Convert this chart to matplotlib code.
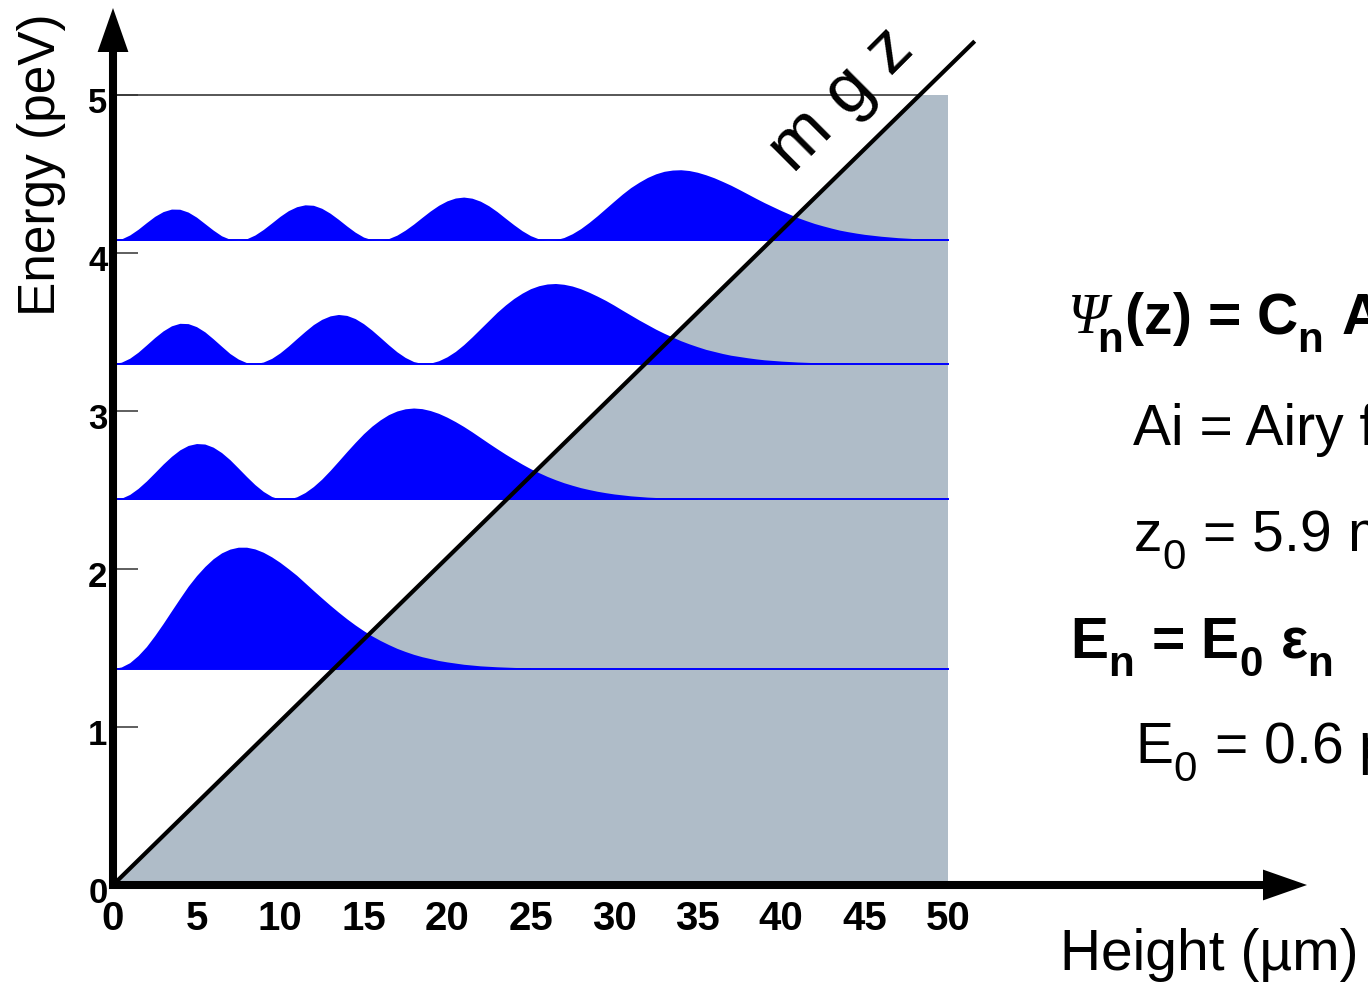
import numpy as np
import matplotlib
matplotlib.use("Agg")
import matplotlib.pyplot as plt
from matplotlib.patches import FancyArrowPatch, Polygon
import matplotlib.transforms as mtransforms

plt.rcParams['font.family'] = ['Liberation Sans', 'DejaVu Sans']
plt.rcParams['mathtext.fontset'] = 'custom'
plt.rcParams['mathtext.rm'] = 'Liberation Sans'
plt.rcParams['mathtext.bf'] = 'Liberation Sans:bold'
plt.rcParams['mathtext.it'] = 'Liberation Sans:italic'
plt.rcParams['mathtext.sf'] = 'Liberation Sans'
try:  # lower, larger subscripts like the reference
    import matplotlib._mathtext as _mt
    _mt.FontConstantsBase.sub1 = 0.62
    _mt.FontConstantsBase.sub2 = 0.62
    _mt.SHRINK_FACTOR = 0.74
except Exception:
    pass

# ---------------- data ----------------
x_ticks = [0, 5, 10, 15, 20, 25, 30, 35, 40, 45, 50]
y_ticks = [0, 1, 2, 3, 4, 5]
height_max = 50.0          # um, end of grey region
energy_max = 5.0           # peV, top line
mgz_slope = 0.1035         # peV per um (m g z line)
mgz_end = 51.6             # um, end of drawn m g z line

level_energy = [1.37, 2.44, 3.30, 4.08]   # peV

# sample heights (um): every 0.5 um in the oscillating part, every 1 um in the tail
z_level_1 = np.r_[np.arange(0, 20.5, 0.5), np.arange(21, 26)]
z_level_2 = np.r_[np.arange(0, 30.5, 0.5), np.arange(31, 36)]
z_level_3 = np.r_[np.arange(0, 39.5, 0.5), np.arange(40, 45)]
z_level_4 = np.r_[np.arange(0, 45.5, 0.5), np.arange(46, 51)]

# probability density drawn above each level (peV)
density_1 = [0, 0.010, 0.037, 0.082, 0.139, 0.209, 0.285, 0.365, 0.444, 0.521,
             0.588, 0.646, 0.695, 0.732, 0.756, 0.768, 0.768, 0.757, 0.736, 0.707,
             0.672, 0.632, 0.590, 0.542, 0.494, 0.447, 0.401, 0.357, 0.315, 0.276,
             0.240, 0.207, 0.178, 0.152, 0.128, 0.108, 0.090, 0.075, 0.063, 0.051,
             0.042,
             0.027, 0.017, 0.011, 0.007, 0.004]
density_2 = [0, 0.008, 0.032, 0.070, 0.117, 0.170, 0.224, 0.273, 0.314, 0.342,
             0.354, 0.351, 0.331, 0.297, 0.252, 0.199, 0.145, 0.094, 0.051, 0.019,
             0.002,
             0.002, 0.017, 0.044, 0.082, 0.129, 0.184, 0.243, 0.303, 0.361, 0.416,
             0.464, 0.504, 0.537, 0.560, 0.574, 0.579, 0.575, 0.563, 0.545, 0.521,
             0.493, 0.462, 0.428, 0.392, 0.356, 0.321, 0.287, 0.255, 0.224, 0.195,
             0.170, 0.146, 0.125, 0.106, 0.090, 0.075, 0.063, 0.052, 0.043, 0.035,
             0.023, 0.015, 0.010, 0.006, 0.004]
density_3 = [0, 0.009, 0.034, 0.072, 0.118, 0.165, 0.207, 0.239, 0.255, 0.253,
             0.234, 0.201, 0.157, 0.110, 0.064, 0.029, 0.006,
             0.000, 0.010, 0.033, 0.068, 0.111, 0.158, 0.204, 0.247, 0.280, 0.302,
             0.311, 0.305, 0.285, 0.253, 0.212, 0.166, 0.119, 0.075, 0.039, 0.013,
             0.001,
             0.003, 0.018, 0.043, 0.077, 0.120, 0.169, 0.221, 0.273, 0.325, 0.371,
             0.412, 0.446, 0.474, 0.493, 0.504, 0.507, 0.502, 0.491, 0.474, 0.452,
             0.427, 0.400, 0.370, 0.338, 0.307, 0.276, 0.247, 0.218, 0.192, 0.168,
             0.145, 0.125, 0.107, 0.090, 0.077, 0.064, 0.053, 0.045, 0.037, 0.030,
             0.024,
             0.016, 0.010, 0.006, 0.004, 0.002]
density_4 = [0, 0.009, 0.034, 0.070, 0.112, 0.152, 0.182, 0.198, 0.197, 0.179,
             0.147, 0.106, 0.065, 0.029, 0.007,
             0.000, 0.010, 0.034, 0.069, 0.110, 0.152, 0.188, 0.213, 0.225, 0.222,
             0.203, 0.172, 0.133, 0.091, 0.052, 0.021, 0.004,
             0.001, 0.011, 0.033, 0.065, 0.103, 0.145, 0.186, 0.222, 0.250, 0.268,
             0.274, 0.267, 0.248, 0.219, 0.182, 0.140, 0.099, 0.061, 0.030, 0.009,
             0.000,
             0.004, 0.018, 0.042, 0.074, 0.113, 0.156, 0.202, 0.248, 0.293, 0.334,
             0.368, 0.398, 0.421, 0.437, 0.445, 0.447, 0.442, 0.431, 0.415, 0.396,
             0.373, 0.349, 0.322, 0.294, 0.266, 0.239, 0.214, 0.189, 0.166, 0.144,
             0.125, 0.107, 0.092, 0.078, 0.065, 0.055, 0.046, 0.038,
             0.026, 0.017, 0.011, 0.007, 0.004]
level_z = [z_level_1, z_level_2, z_level_3, z_level_4]
densities = [density_1, density_2, density_3, density_4]

# ---------------- figure ----------------
W, H = 1368, 982
fig = plt.figure(figsize=(W / 100, H / 100), dpi=100)
x0_px, y0_px = 113, 885
px_per_um = 16.7
px_per_peV = 158.0
right_px, top_px = 1310, 5
ax = fig.add_axes([x0_px / W, (H - y0_px) / H, (right_px - x0_px) / W, (y0_px - top_px) / H])
ax.set_xlim(0, (right_px - x0_px) / px_per_um)
ax.set_ylim(0, (y0_px - top_px) / px_per_peV)
for s in ax.spines.values():
    s.set_visible(False)

grey = '#AFBCC8'
blue = '#0000FF'

# grey classically-allowed region
z_top = energy_max / mgz_slope
ax.add_patch(Polygon([[0, 0], [height_max, 0], [height_max, energy_max], [z_top, energy_max]],
                     closed=True, facecolor=grey, edgecolor='none', zorder=1))
# top line at 5 peV
ax.plot([0, z_top], [energy_max, energy_max], color='#3a3a3a', lw=1.2, zorder=1.5)

# wavefunction densities
for E, z, dens in zip(level_energy, level_z, densities):
    d = np.array(dens)
    ax.fill_between(z, E, E + d, color=blue, lw=0, zorder=2)
    ax.plot([0, height_max], [E, E], color=blue, lw=1.4, zorder=2.1)

# m g z line
ax.plot([0, mgz_end], [0, mgz_end * mgz_slope], color='black', lw=3.0,
        solid_capstyle='butt', zorder=3)

# axes arrows
xmax_arrow = (1307 - x0_px) / px_per_um
ymax_arrow = (y0_px - 8) / px_per_peV
for (a, b) in [((-4 / px_per_um, 0), (xmax_arrow, 0)),
               ((0, -4 / px_per_peV), (0, ymax_arrow))]:
    arr = FancyArrowPatch(a, b, arrowstyle='-|>,head_length=20,head_width=7',
                          mutation_scale=1, lw=5.8, color='black', shrinkA=0, shrinkB=0,
                          clip_on=False, zorder=5, joinstyle='miter', capstyle='butt')
    ax.add_patch(arr)

# ticks
ax.set_xticks(x_ticks)
ax.set_xticklabels([str(v) for v in x_ticks], fontsize=29, fontweight='bold')
ax.tick_params(axis='x', length=0, pad=11)
ax.set_yticks(y_ticks)
ax.set_yticklabels([str(v) for v in y_ticks], fontsize=25, fontweight='bold')
ax.tick_params(axis='y', direction='in', length=18, width=1.1, color='#333333', pad=4)
offset = mtransforms.ScaledTranslation(0, -5 / 100, fig.dpi_scale_trans)
for lab in ax.get_yticklabels():
    lab.set_transform(lab.get_transform() + offset)

# axis labels
fig.text(42 / W, 1 - 165 / H, 'Energy (peV)', rotation=90, ha='center', va='center', fontsize=37)
fig.text(1060 / W, 1 - 970 / H, 'Height (\u00b5m)', ha='left', va='baseline', fontsize=41)

# m g z label
fig.text(842 / W, 1 - 100 / H, 'm g z', rotation=45, ha='center', va='center', fontsize=51)

# formulas
fs = 41
fig.text(1068 / W, 1 - 333 / H, '\u03a8', family='Liberation Serif', style='italic',
         fontsize=fs, va='baseline', ha='left')
fig.text(1097 / W, 1 - 333 / H,
         r'$_{\mathbf{n}}$' + '(z) = C' + r'$_{\mathbf{n}}$' + ' Ai(z/z' + r'$_{\mathbf{0}}$'
         + ' \u2212 \u03b5' + r'$_{\mathbf{n}}$' + ')',
         fontweight='bold', fontsize=fs, va='baseline', ha='left')
fig.text(1133 / W, 1 - 445 / H, 'Ai = Airy function', fontsize=fs, va='baseline', ha='left')
fig.text(1133 / W, 1 - 550 / H, 'z' + r'$_{\mathrm{0}}$' + ' = 5.9 microns', fontsize=fs,
         va='baseline', ha='left')
fig.text(1070 / W, 1 - 657 / H, 'E' + r'$_{\mathbf{n}}$' + ' = E' + r'$_{\mathbf{0}}$' + ' \u03b5'
         + r'$_{\mathbf{n}}$', fontweight='bold', fontsize=fs, va='baseline', ha='left')
fig.text(1135 / W, 1 - 762 / H, 'E' + r'$_{\mathrm{0}}$' + ' = 0.6 peV', fontsize=fs,
         va='baseline', ha='left')

fig.savefig('out.png', dpi=100)
